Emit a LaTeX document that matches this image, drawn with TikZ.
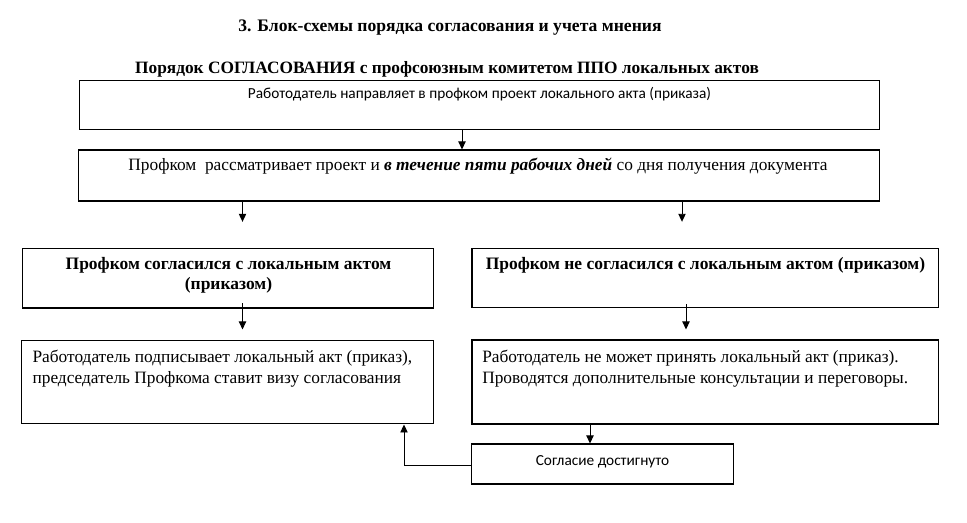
\documentclass[tikz,border=0pt]{standalone}
\usepackage{fontspec}
\setmainfont{Liberation Serif}
\newfontfamily\calibri{Carlito}
\usetikzlibrary{positioning,arrows.meta}

\begin{document}
\begin{tikzpicture}[x=0.75pt, y=-0.75pt,
  box/.style={draw, rectangle, line width=0.8pt, inner sep=0pt},
  headText/.style={inner sep=0pt, anchor=base, font=\bfseries\fontsize{13.1}{15}\selectfont},
  serifText/.style={inner sep=0pt, anchor=base, font=\fontsize{13}{15.75}\selectfont},
  sansText/.style={inner sep=0pt, anchor=base, font=\calibri\fontsize{11.5}{14}\selectfont},
  flow/.style={-{Triangle[length=6pt, width=5.5pt]}, line width=0.7pt}]
  \useasboundingbox (0,0) rectangle (967,523);
  % headings
  \node[headText, font=\bfseries\fontsize{13.2}{15}\selectfont] (title) at (450,31.5) {3. Блок-схемы порядка согласования и учета мнения};
  \node[headText, font=\bfseries\fontsize{13}{15}\selectfont] (subtitle) at (447,74) {Порядок СОГЛАСОВАНИЯ с профсоюзным комитетом ППО локальных актов};
  % boxes
  \node[box, minimum width=600pt, minimum height=36.5pt] (send) at (479.3,105) {};
  \node[box, minimum width=600.75pt, minimum height=38.25pt] (review) at (478.8,175.5) {};
  \node[box, minimum width=308.25pt, minimum height=44.75pt] (agreed) at (227.8,278.2) {};
  \node[box, minimum width=350pt, minimum height=44.5pt] (refused) at (705.3,278) {};
  \node[box, minimum width=309pt, minimum height=62.5pt] (sign) at (227.3,382.3) {};
  \node[box, minimum width=350pt, minimum height=63pt] (talks) at (705.3,382) {};
  \node[box, minimum width=196.7pt, minimum height=30pt] (reached) at (602.8,464) {};
  % texts
  \node[sansText] (sendText) at (479.5,98.5) {Работодатель направляет в профком проект локального акта (приказа)};
  \node[serifText] (reviewText) at (478,171) {Профком~~рассматривает проект и \textbf{\textit{в течение пяти рабочих дней}} со дня получения документа};
  \node[headText, align=center] (agreedText) at (228.5,289.3) {Профком согласился с локальным актом\\(приказом)};
  \node[headText] (refusedText) at (705.5,270) {Профком не согласился с локальным актом (приказом)};
  \node[serifText, align=left, anchor=base west] (signText) at (32.3,384) {Работодатель подписывает локальный акт (приказ),\\председатель Профкома ставит визу согласования};
  \node[serifText, align=left, anchor=base west] (talksText) at (482,384) {Работодатель не может принять локальный акт (приказ).\\Проводятся дополнительные консультации и переговоры.};
  \node[sansText] (reachedText) at (602.5,465) {Согласие достигнуто};
  % arrow columns
  \coordinate (topArm) at (462,0);
  \coordinate (leftArm) at (242.5,0);
  \coordinate (rightArm) at (682,0);
  \coordinate (rightDown) at (686,0);
  \coordinate (reachArm) at (590,0);
  \coordinate (backArm) at (404,0);
  % connectors
  \draw[flow] (send.south -| topArm) -- (review.north -| topArm);
  \draw[flow, shorten >=19.5pt] (review.south -| leftArm) -- (agreed.north -| leftArm);
  \draw[flow, shorten >=19.5pt] (review.south -| rightArm) -- (refused.north -| rightArm);
  \draw[flow, shorten <=-4pt, shorten >=8pt] (agreed.south -| leftArm) -- (sign.north -| leftArm);
  \draw[flow, shorten <=-3pt, shorten >=7.5pt] (refused.south -| rightDown) -- (talks.north -| rightDown);
  \draw[flow] (talks.south -| reachArm) -- (reached.north -| reachArm);
  \draw[flow] ([yshift=-1.3pt]reached.west) -| (backArm |- sign.south);
\end{tikzpicture}
\end{document}
